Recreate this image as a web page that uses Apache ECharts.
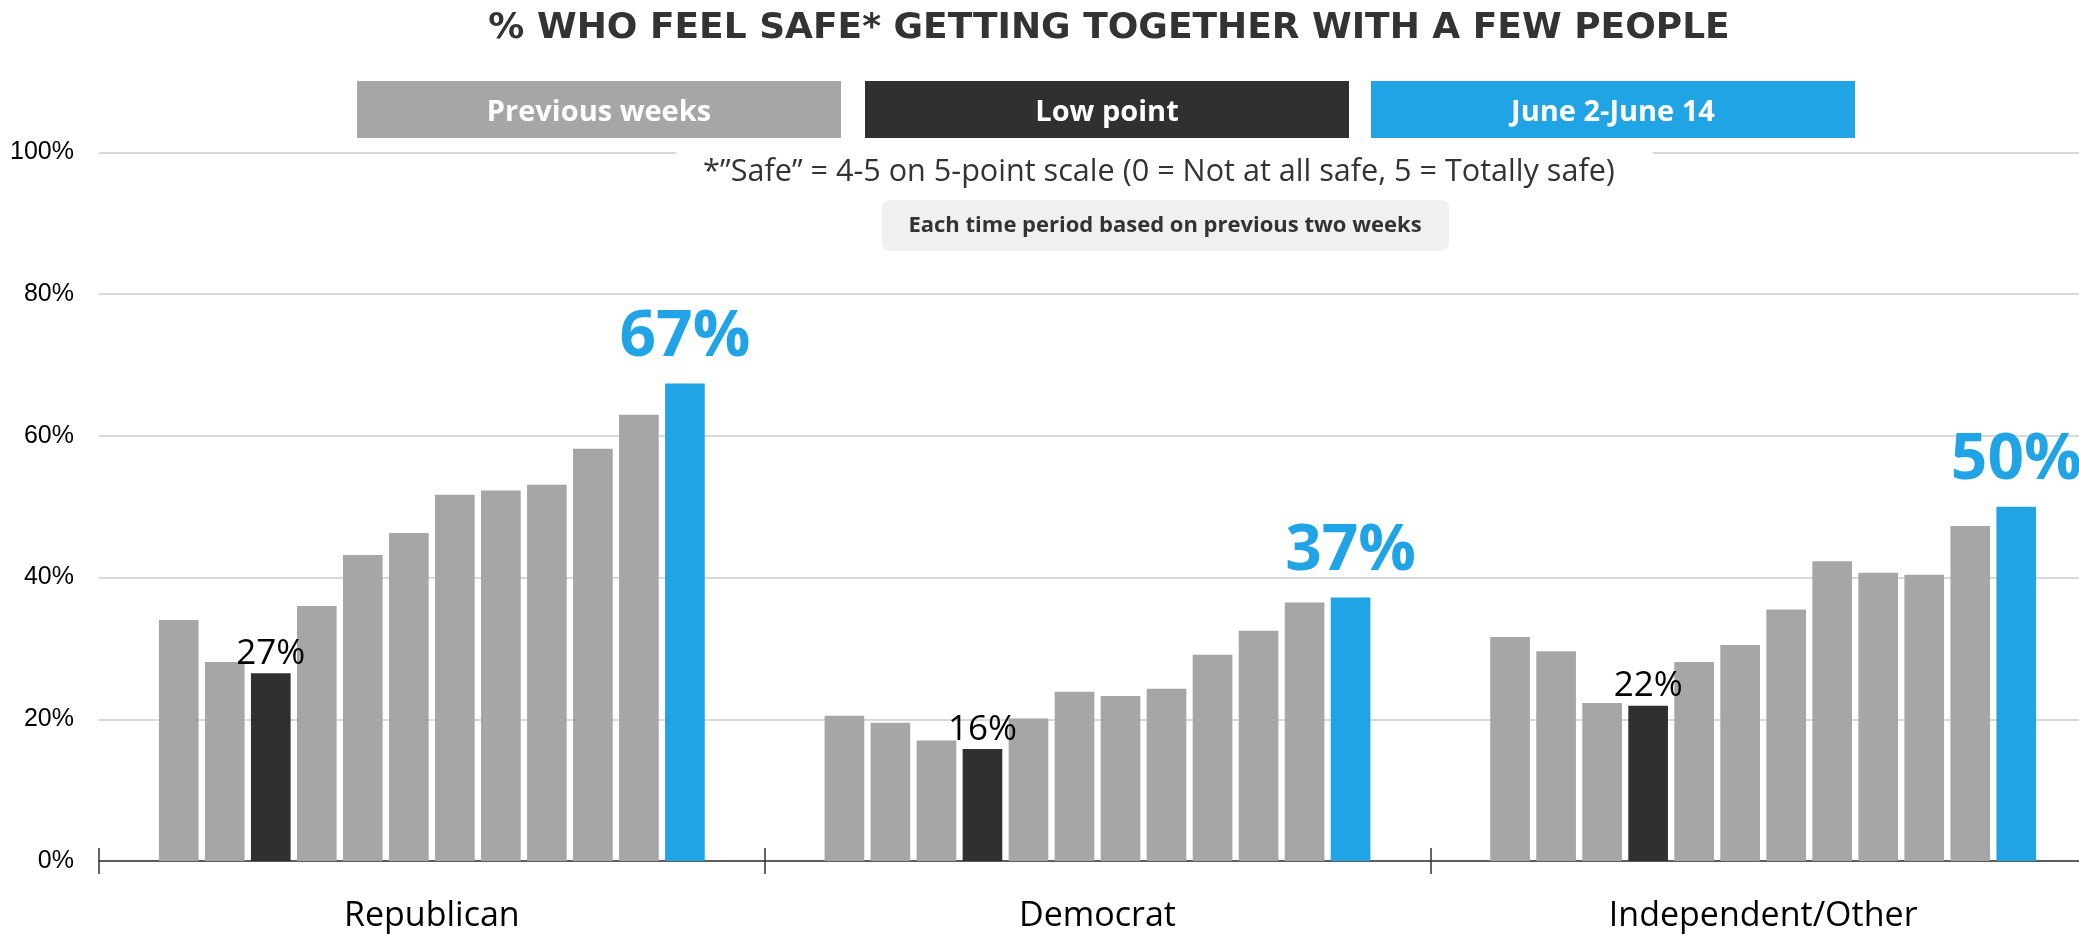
<!DOCTYPE html>
<html>
<head>
<meta charset="utf-8">
<script src="https://cdn.jsdelivr.net/npm/echarts@6/dist/echarts.min.js"></script>
<style>
  html, body { margin: 0; padding: 0; overflow: hidden; background: #fff; }
  #chart { width: 2100px; height: 935px; }
</style>
</head>
<body>
<div id="chart"></div>
<script>
// ---- data ----
const categories = ['Republican', 'Democrat', 'Independent/Other'];
const republican  = [34.0, 28.1, 26.5, 36.0, 43.2, 46.3, 51.7, 52.3, 53.1, 58.2, 63.0, 67.4];
const democrat    = [20.5, 19.5, 17.0, 15.8, 20.1, 23.9, 23.3, 24.3, 29.1, 32.5, 36.5, 37.2];
const independent = [31.6, 29.6, 22.3, 21.9, 28.1, 30.5, 35.5, 42.3, 40.7, 40.4, 47.3, 50.0];
const lowPointIndex = [2, 3, 3];
const legendLabels = ['Previous weeks', 'Low point', 'June 2-June 14'];
const yTicks = [0, 20, 40, 60, 80, 100];
const titleText = '% WHO FEEL SAFE* GETTING TOGETHER WITH A FEW PEOPLE';
const footnoteText = '*\u201DSafe\u201D = 4-5 on 5-point scale (0 = Not at all safe, 5 = Totally safe)';
const noteText = 'Each time period based on previous two weeks';

const GRAY = '#a6a6a6', DARK = '#303030', BLUE = '#21a4e6';
const legendColors = [GRAY, DARK, BLUE];

const groups = [republican, democrat, independent];
const nPeriods = republican.length;

const series = [];
for (let i = 0; i < nPeriods; i++) {
  const data = groups.map((g, c) => {
    const isLow = lowPointIndex[c] === i;
    const isLast = i === nPeriods - 1;
    const item = { value: g[i], itemStyle: { color: isLast ? BLUE : (isLow ? DARK : GRAY) } };
    if (isLow) {
      item.label = { show: true, position: 'top', distance: 2, color: '#000',
        fontFamily: 'Open Sans', fontSize: 35, formatter: p => Math.round(p.value) + '%' };
    } else if (isLast) {
      item.label = { show: true, position: 'top', distance: 14, color: BLUE,
        fontFamily: 'Open Sans', fontWeight: 'bold', fontSize: 64, formatter: p => Math.round(p.value) + '%' };
    }
    return item;
  });
  series.push({
    type: 'bar',
    name: 'P' + (i + 1),
    data: data,
    barGap: '16%',
    barCategoryGap: '18%',
    label: { show: false },
    emphasis: { disabled: true },
    animation: false
  });
}

const graphics = [];
// title
graphics.push({ type: 'text', x: 1109, y: 29, z: 100,
  style: { text: titleText, font: 'bold 36px "DejaVu Sans"', fill: '#333',
           textAlign: 'center', textVerticalAlign: 'middle' } });
// legend boxes
const legendX = [357, 865, 1371];
legendLabels.forEach((t, k) => {
  graphics.push({ type: 'rect', z: 100, shape: { x: legendX[k], y: 81, width: 484, height: 57 },
    style: { fill: legendColors[k] } });
  graphics.push({ type: 'text', z: 101, x: legendX[k] + 242, y: 113,
    style: { text: t, font: 'bold 29px "Open Sans"', fill: '#fff', textAlign: 'center', textVerticalAlign: 'middle' } });
});
// footnote with white background covering the gridline
graphics.push({ type: 'rect', z: 100, shape: { x: 676, y: 142, width: 977, height: 20 }, style: { fill: '#fff' } });
graphics.push({ type: 'text', z: 101, x: 1159, y: 172,
  style: { text: footnoteText, font: '30.6px "Open Sans"', fill: '#333', textAlign: 'center', textVerticalAlign: 'middle' } });
// note box
graphics.push({ type: 'rect', z: 100, shape: { x: 882, y: 200, width: 567, height: 51, r: 8 }, style: { fill: '#f0f0f0' } });
graphics.push({ type: 'text', z: 101, x: 1165, y: 226,
  style: { text: noteText, font: 'bold 22px "Open Sans"', fill: '#333', textAlign: 'center', textVerticalAlign: 'middle' } });

const chart = echarts.init(document.getElementById('chart'), null, { renderer: 'canvas' });
chart.setOption({
  animation: false,
  backgroundColor: '#fff',
  grid: { left: 99, right: 4, top: 152.5, bottom: 74, containLabel: false, outerBoundsMode: 'none' },
  xAxis: [{
    type: 'category', data: categories, position: 'bottom',
    axisLine: { show: true, lineStyle: { color: '#333', width: 1.5 } },
    axisTick: { show: true, length: 13, inside: false, alignWithLabel: false, interval: 0, lineStyle: { color: '#333', width: 1.5 } },
    axisLabel: { color: '#000', fontFamily: 'Open Sans', fontSize: 34, margin: 38, interval: 0 },
    splitLine: { show: false }
  }, {
    type: 'category', data: categories, position: 'bottom', offset: 0,
    axisLine: { show: false },
    axisTick: { show: true, length: 13, inside: true, alignWithLabel: false, interval: 0, lineStyle: { color: '#333', width: 1.5 } },
    axisLabel: { show: false },
    splitLine: { show: false }
  }],
  yAxis: {
    type: 'value', min: yTicks[0], max: yTicks[yTicks.length - 1], interval: 20,
    axisLine: { show: false }, axisTick: { show: false },
    axisLabel: { formatter: '{value}%', color: '#000', fontFamily: 'Liberation Sans', fontSize: 25, margin: 25 },
    splitLine: { show: true, lineStyle: { color: '#d9d9d9', width: 2 } }
  },
  series: series,
  graphic: graphics
});
</script>
</body>
</html>
